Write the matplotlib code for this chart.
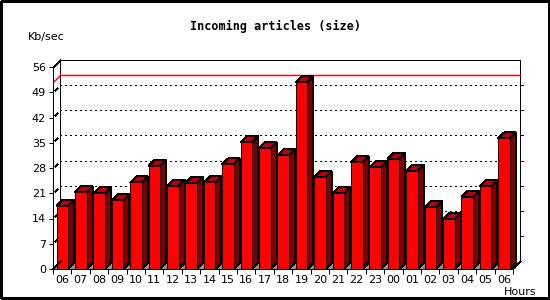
import math
import matplotlib
matplotlib.use("Agg")
import matplotlib.pyplot as plt
from matplotlib.patches import Polygon, Rectangle
from matplotlib.lines import Line2D
from matplotlib.transforms import IdentityTransform

plt.rcParams['lines.scale_dashes'] = False

hours = ['06', '07', '08', '09', '10', '11', '12', '13', '14', '15', '16', '17',
         '18', '19', '20', '21', '22', '23', '00', '01', '02', '03', '04', '05', '06']
kbps = [17.5, 21.3, 21.0, 19.0, 24.0, 28.6, 23.1, 23.8, 24.0, 29.0, 35.1, 33.5,
        31.5, 51.8, 25.4, 21.0, 29.6, 28.2, 30.6, 27.3, 17.1, 13.8, 19.9, 22.9, 36.2]
yticks = [0, 7, 14, 21, 28, 35, 42, 49, 56]

W, H = 550, 300
D = 7      # depth of the box in pixels
BD = 6     # depth of a bar in pixels
LW = 0.72  # one pixel

fig = plt.figure(figsize=(5.5, 3), dpi=100)
ax = fig.add_axes([53 / W, 31 / H, 460 / W, 202 / H])
n = len(kbps)
ax.set_xlim(-0.5, n - 0.5)
ax.set_ylim(0, 56)
ax.patch.set_visible(False)
for s in ['top', 'right']:
    ax.spines[s].set_visible(False)
for s in ['left', 'bottom']:
    ax.spines[s].set_linewidth(LW)
    ax.spines[s].set_zorder(10)

ax.set_yticks(yticks)
ax.set_yticklabels([str(v) for v in yticks])
ax.set_xticks(range(n))
ax.set_xticklabels(hours)
ax.set_xticks([i - 0.5 for i in range(n + 1)], minor=True)
ax.tick_params(axis='y', direction='out', length=3, width=LW, pad=2, labelsize=8)
ax.tick_params(axis='x', which='major', length=0, pad=4.5, labelsize=8)
ax.tick_params(axis='x', which='minor', direction='out', length=3.6, width=LW)

ident = IdentityTransform()


def px(x, y, dx=0, dy=0):
    p = ax.transData.transform((x, y))
    return (p[0] + dx, p[1] + dy)


def snap(p):
    return (math.floor(p[0]) + 0.5, math.floor(p[1]) + 0.5)


def poly(pts, fc, ec='black', z=2):
    ax.add_patch(Polygon(pts, closed=True, facecolor=fc, edgecolor=ec, linewidth=LW,
                         transform=ident, clip_on=False, antialiased=False, zorder=z))


def line(p0, p1, color='black', ls='-', z=3, lw=LW, aa=False):
    p0, p1 = snap(p0), snap(p1)
    ax.add_line(Line2D([p0[0], p1[0]], [p0[1], p1[1]], color=color, linewidth=lw,
                       linestyle=ls, transform=ident, clip_on=False, antialiased=aa,
                       snap=False, zorder=z))


x0, x1 = -0.5, n - 0.5
dots = (0, (1.44, 2.16))

# back wall
poly([px(x0, 0, D, D), px(x1, 0, D, D), px(x1, 56, D, D), px(x0, 56, D, D)], 'white', z=1)
# floor
poly([px(x0, 0), px(x1, 0), px(x1, 0, D, D), px(x0, 0, D, D)], '#909090', ec='none', z=1)
line(px(x0, 0), px(x0, 0, D, D), z=3)
line(px(x0, 56), px(x0, 56, D, D), z=3)
line(px(x1, 0), px(x1, 0, D, D), z=3)

# grid
for v in yticks[1:-1]:
    line(px(x0, v, D, D), px(x1, v, D, D), ls=dots, z=1.5)
    line(px(x0, v, 2, 2), px(x0, v, 4, 4), z=1.5)
    line(px(x1, v, D, D), px(x1, v, D + 3, D), z=1.5)

# maximum line
vmax = max(kbps)
line(px(x0, vmax, D, D), px(x1, vmax, D, D), color='#ff0000', z=1.6, lw=1.0, aa=True)
line(px(x0, vmax), px(x0, vmax, D, D), color='#ff0000', z=1.6, lw=1.0, aa=True)

# bars
bl, br = -0.3, 0.33
for i, v in enumerate(kbps):
    a, b = i + bl, i + br
    poly([px(b, 0), px(b, 0, BD, BD), px(b, 0, BD, 0)], '#909090', ec='none', z=2)
    poly([px(b, 0), px(b, 0, BD, BD), px(b, v, BD, BD), px(b, v)], '#800000', z=2)
    poly([px(a, v), px(b, v), px(b, v, BD, BD), px(a, v, BD, BD)], '#c00000', z=2)
    poly([px(a, 0), px(b, 0), px(b, v), px(a, v)], '#ff0000', z=2.5)

fig.text(276 / W, 1 - 26 / H, 'Incoming articles (size)', ha='center', va='center',
         family='DejaVu Sans Mono', weight='bold', fontsize=8.5)
fig.text(28 / W, 1 - 37 / H, 'Kb/sec', ha='left', va='center', fontsize=8)
fig.text(504 / W, 1 - 292 / H, 'Hours', ha='left', va='center', fontsize=8)

fig.patches.append(Rectangle((0.5, 2.5), 548, 297, transform=IdentityTransform(),
                             fill=False, edgecolor='black', linewidth=LW * 1.4,
                             antialiased=False))

fig.savefig('out.png', dpi=100)
